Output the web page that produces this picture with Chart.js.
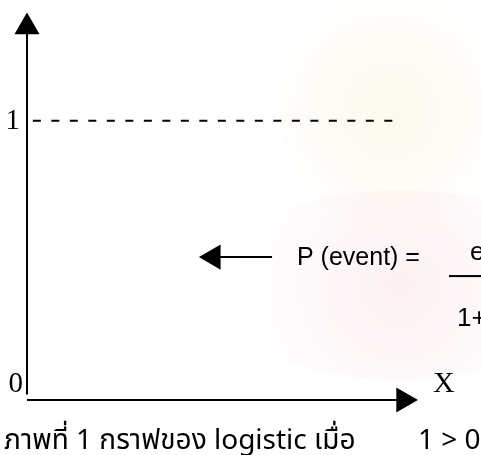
<!DOCTYPE html>
<html lang="th">
<head>
<meta charset="UTF-8">
<title>Logistic</title>
<script src="https://cdn.jsdelivr.net/npm/chart.js"></script>
<style>
    body { margin: 0; background: #fff; }
    #wrap { width: 481px; height: 455px; }
</style>
</head>
<body>
<div id="wrap"><canvas id="chart" width="481" height="455"></canvas></div>
<script>
// axis extents (x in units, y is probability)
const xAxisX = [0, 9.46, 9.68];
const xAxisY = [0, 0, 0];
const yAxisX = [0, 0, 0];
const yAxisY = [0.02, 1.31, 1.336];
// dashed asymptote P = 1
const limitX = [0.15, 9.45];
const limitY = [1, 1];
// pointer arrow towards the curve
const pointerX = [4.79, 6.30];
const pointerY = [0.512, 0.512];
// tick labels
const yTickLabels = ['0', '1'];
const yTickValues = [0, 1];
const xAxisTitle = 'X';
const formulaText = 'P (event) =';
const captionText = 'ภาพที่ 1 กราฟของ logistic เมื่อ';
const captionCond = '1 > 0';

const toPts = (xs, ys) => xs.map((x, i) => ({ x, y: ys[i] }));

const watermark = {
    id: 'watermark',
    beforeDraw(chart) {
        const ctx = chart.ctx;
        ctx.save();
        ctx.fillStyle = '#fff';
        ctx.fillRect(0, 0, chart.width, chart.height);
        // faint pink base of the emblem
        let g = ctx.createRadialGradient(400, 285, 10, 400, 285, 170);
        g.addColorStop(0, 'rgba(250,228,231,0.5)');
        g.addColorStop(1, 'rgba(250,228,231,0)');
        ctx.fillStyle = g;
        ctx.beginPath();
        ctx.ellipse(400, 285, 190, 95, 0, 0, Math.PI * 2);
        ctx.fill();
        // faint yellow crown
        g = ctx.createRadialGradient(390, 110, 10, 390, 110, 140);
        g.addColorStop(0, 'rgba(248,240,212,0.4)');
        g.addColorStop(1, 'rgba(248,240,212,0)');
        ctx.fillStyle = g;
        ctx.beginPath();
        ctx.ellipse(390, 110, 110, 120, 0, 0, Math.PI * 2);
        ctx.fill();
        ctx.restore();
    }
};

const labels = {
    id: 'labels',
    afterDraw(chart) {
        const ctx = chart.ctx;
        const xs = chart.scales.x, ys = chart.scales.y;
        ctx.save();
        ctx.fillStyle = '#000';
        ctx.textBaseline = 'middle';
        ctx.font = '29px "Liberation Serif", serif';
        ctx.textAlign = 'right';
        yTickLabels.forEach((t, i) => {
            ctx.fillText(t, xs.getPixelForValue(0) - (i === 0 ? 4 : 7), ys.getPixelForValue(yTickValues[i]) + (i === 0 ? -16 : 1));
        });
        ctx.textAlign = 'left';
        ctx.font = '30px "Liberation Serif", serif';
        ctx.fillText(xAxisTitle, xs.getPixelForValue(10) + 17, ys.getPixelForValue(0) - 16);

        ctx.font = '25px "Liberation Sans", Arial, sans-serif';
        const fy = ys.getPixelForValue(pointerY[0]);
        ctx.fillText(formulaText, 297, fy + 1);
        ctx.font = '26px "Liberation Sans", Arial, sans-serif';
        ctx.fillText('e', 470, fy - 4);
        ctx.fillText('1+e', 457, fy + 62);
        ctx.fillRect(449, fy + 18, 40, 2);

        ctx.textBaseline = 'alphabetic';
        ctx.font = '28px "Noto Sans Thai", "Noto Sans", "Liberation Sans", sans-serif';
        ctx.fillText(captionText, 4, 449);
        ctx.fillText(captionCond, 418, 449);
        ctx.restore();
    }
};

const lineDs = (data, extra) => Object.assign({
    data,
    showLine: true,
    borderColor: '#000',
    backgroundColor: '#000',
    borderWidth: 2,
    pointRadius: 0,
    clip: false
}, extra);

new Chart(document.getElementById('chart'), {
    type: 'scatter',
    data: {
        datasets: [
            lineDs(toPts(xAxisX, xAxisY), {
                pointRadius: [0, 0, 12.5], pointStyle: 'triangle', pointRotation: 90
            }),
            lineDs(toPts(yAxisX, yAxisY), {
                pointRadius: [0, 0, 12.5], pointStyle: 'triangle', pointRotation: 0
            }),
            lineDs(toPts(limitX, limitY), { borderDash: [8, 10.5] }),
            lineDs(toPts(pointerX, pointerY), {
                pointRadius: [12.5, 0], pointStyle: 'triangle', pointRotation: -90
            })
        ]
    },
    options: {
        responsive: false,
        animation: false,
        layout: { padding: { left: 27, right: 65, top: 12, bottom: 55 } },
        plugins: { legend: { display: false }, tooltip: { enabled: false } },
        elements: { point: { borderWidth: 0 } },
        scales: {
            x: { type: 'linear', min: 0, max: 10, display: false },
            y: { type: 'linear', min: 0, max: 1.381, display: false }
        }
    },
    plugins: [watermark, labels]
});
</script>
</body>
</html>
